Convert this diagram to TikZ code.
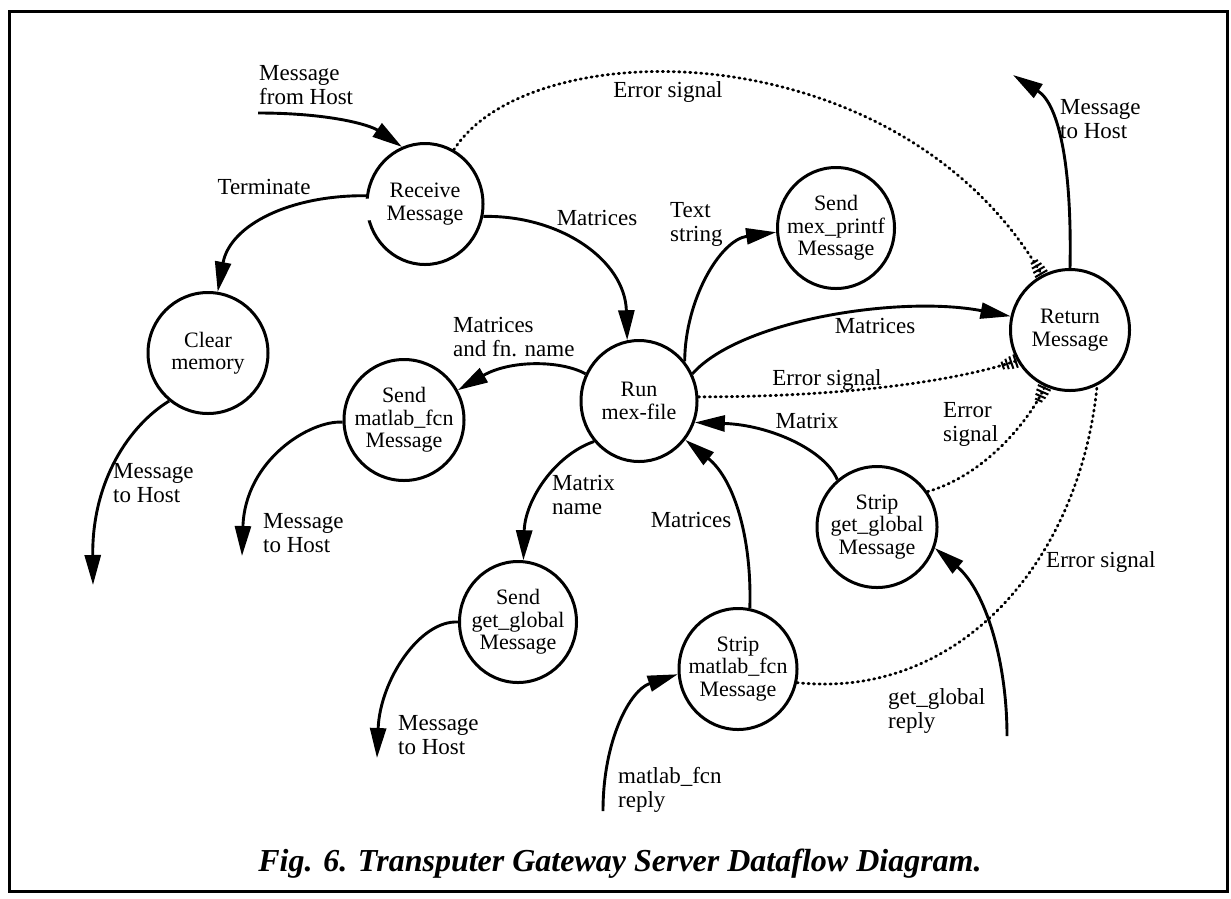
\documentclass[tikz,border=0pt]{standalone}
\usepackage{fontspec}
\setmainfont{Liberation Serif}
\usetikzlibrary{arrows.meta,shapes.geometric,decorations.markings}
\begin{document}
\begin{tikzpicture}[x=1pt,y=-1pt,
  proc/.style={draw, ellipse, line width=3pt, inner sep=0pt, minimum width=118pt, minimum height=121pt},
  ptext/.style={align=center, inner sep=0pt, font=\fontsize{22}{22.5}\selectfont},
  lab/.style={align=left, inner sep=0pt, font=\fontsize{23}{24}\selectfont},
  flow/.style={line width=2.9pt, -{Triangle[length=30pt,width=16pt]}},
  err/.style={line width=2.8pt, line cap=round, dash pattern=on 1.2pt off 4.3pt,
    postaction={decorate},
    decoration={markings, mark=at position 1 with {
      \foreach \d/\h in {1.5/7,6/6.5,10.5/5.5,15/4}{
        \draw[solid, line width=2pt, line cap=butt] (-\d pt,-\h pt) -- (-\d pt,\h pt);}}}},
]
\useasboundingbox (0,0) rectangle (1231,898);
\draw[line width=3pt] (9,11) rectangle (1227,891);

% processes
\node[proc, minimum width=116pt] (rm) at (425,204) {};
\node[ptext] (rmt) at (rm) {Receive\\Message};
\node[proc, minimum width=120pt] (cm) at (208,353) {};
\node[ptext] (cmt) at (cm) {Clear\\memory};
\node[proc, minimum width=120pt] (smf) at (404,420) {};
\node[ptext] (smft) at (smf) {Send\\matlab\_fcn\\Message};
\node[proc, minimum width=116pt] (run) at (639,401) {};
\node[ptext] (runt) at (run) {Run\\mex-file};
\node[proc, minimum width=117pt] (spf) at (836,228) {};
\node[ptext] (spft) at (spf) {Send\\mex\_printf\\Message};
\node[proc, minimum width=119pt] (ret) at (1070,330) {};
\node[ptext] (rett) at (ret) {Return\\Message};
\node[proc, minimum width=120pt] (sgg) at (877,527) {};
\node[ptext] (sggt) at (sgg) {Strip\\get\_global\\Message};
\node[proc, minimum width=117pt] (ggs) at (518,622) {};
\node[ptext] (ggst) at (ggs) {Send\\get\_global\\Message};
\node[proc, minimum width=118pt] (smc) at (738,669) {};
\node[ptext] (smct) at (smc) {Strip\\matlab\_fcn\\Message};

% gap in the Receive circle
\draw[white, line width=7pt] (rm.175) -- (rm.196);

% free ends
\coordinate (hin) at (258,113);
\coordinate (rout) at (1013,75);
\coordinate (ggr) at (1007,736);
\coordinate (mfr) at (603,811);
\coordinate (smfout) at (242,556);
\coordinate (cmout) at (93,585);
\coordinate (ggsout) at (377,758);

% solid flows
\draw[flow] (hin) .. controls (330,113) and (370,125) .. (rm.112);
\draw[flow] (rm.172) .. controls (290,195) and (230,225) .. (cm.81);
\draw[flow] (rm.348) .. controls (560,215) and (625,260) .. (run.101);
\draw[flow] (run.41) .. controls (685,300) and (720,240) .. (spf.184);
\draw[flow] (ret.90) .. controls (1072,170) and (1060,105) .. (rout);
\draw[flow] (run.27) .. controls (740,320) and (900,295) .. (ret.167);
\draw[flow] (sgg.130) .. controls (825,450) and (770,425) .. (run.339);
\draw[flow] (ggr) .. controls (1007,660) and (985,590) .. (sgg.340);
\draw[flow] (smc.79) .. controls (752,540) and (735,480) .. (run.320);
\draw[flow] (mfr) .. controls (603,740) and (630,690) .. (smc.185);
\draw[flow] (run.222) .. controls (555,455) and (525,500) .. (ggs.85);
\draw[flow] (run.153) .. controls (560,360) and (510,360) .. (smf.29);
\draw[flow] (smf.182) .. controls (310,420) and (245,460) .. (smfout);
\draw[flow] (cm.231) .. controls (130,425) and (92,480) .. (cmout);
\draw[flow] (ggs.180) .. controls (420,620) and (380,680) .. (ggsout);

% error signals
\draw[err] (rm.62) .. controls (530,30) and (900,30) .. (ret.117);
\draw[err] (run.4) .. controls (850,397) and (960,380) .. (ret.210);
\draw[err] (sgg.35) .. controls (985,475) and (1030,420) .. (ret.246);
\draw[err] (smc.347) .. controls (960,700) and (1080,560) .. (ret.296);

% labels
\node[lab, anchor=west] (l1) at (259,85) {Message\\from Host};
\node[lab] (l2) at (264,187) {Terminate};
\node[lab] (l3) at (597,218) {Matrices};
\node[lab, anchor=west] (l4) at (670,224) {Text\\string};
\node[lab] (l5) at (668,92) {Error signal};
\node[lab, anchor=west] (l6) at (1060,119) {Message\\to Host};
\node[lab] (l7) at (875,326) {Matrices};
\node[lab, anchor=west] (l8) at (453,337) {Matrices\\and fn. name};
\node[lab] (l9) at (827,380) {Error signal};
\node[lab] (l10) at (807,421) {Matrix};
\node[lab, anchor=west] (l11) at (943,424) {Error\\signal};
\node[lab, anchor=west] (l12) at (113,483) {Message\\to Host};
\node[lab, anchor=west] (l13) at (263,533) {Message\\to Host};
\node[lab, anchor=west] (l14) at (552,495) {Matrix\\name};
\node[lab] (l15) at (691,520) {Matrices};
\node[lab, anchor=west] (l16) at (1046,562) {Error signal};
\node[lab, anchor=west] (l17) at (888,711) {get\_global\\reply};
\node[lab, anchor=west] (l18) at (398,735) {Message\\to Host};
\node[lab, anchor=west] (l19) at (618,790) {matlab\_fcn\\reply};

\node[inner sep=0pt, font=\fontsize{32}{34}\selectfont\bfseries\itshape] (cap) at (620,864)
  {Fig. 6. Transputer Gateway Server Dataflow Diagram.};
\end{tikzpicture}
\end{document}
